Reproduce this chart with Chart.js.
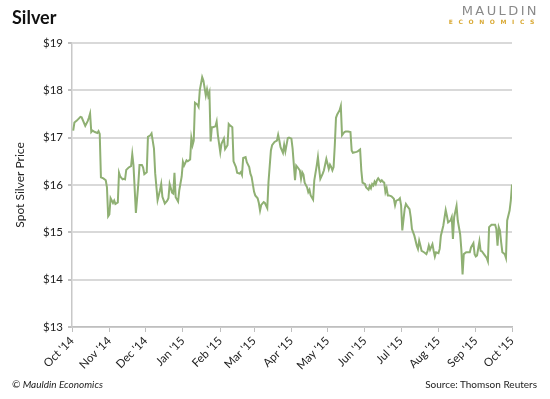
<!DOCTYPE html>
<html>
<head>
<meta charset="utf-8">
<script src="https://cdn.jsdelivr.net/npm/chart.js@4"></script>
<style>
  body { margin: 0; background: #fff; }
  #wrap { position: relative; width: 550px; height: 399px; overflow: hidden; font-family: Lato, "Open Sans", sans-serif; }
  #chart { position: absolute; left: 0; top: 0; }
  .title { position: absolute; left: 12px; top: 6px; font-size: 18px; font-weight: bold; color: #111; }
  .logo1 { position: absolute; right: 11px; top: 3px; font-family: "DejaVu Sans", sans-serif; font-size: 13px; letter-spacing: 2.4px; color: #8a8a8a; }
  .logo2 { position: absolute; right: 10px; top: 18px; font-family: "DejaVu Sans", sans-serif; font-size: 6px; font-weight: bold; letter-spacing: 5.6px; color: #d9a934; }
  .foot { position: absolute; top: 378px; font-size: 10px; color: #222; }
</style>
</head>
<body>
<div id="wrap">
  <canvas id="chart" width="550" height="399"></canvas>
  <div class="title">Silver</div>
  <div class="logo1">MAULDIN</div>
  <div class="logo2">ECONOMICS</div>
  <div class="foot" style="left:12px;font-style:italic;">© Mauldin Economics</div>
  <div class="foot" style="right:13px;">Source: Thomson Reuters</div>
</div>
<script>
// days counted from Oct 1 2014
const monthDays = [0, 31, 61, 92, 123, 151, 182, 212, 243, 273, 304, 335, 365];
const monthLabels = ["Oct '14", "Nov '14", "Dec '14", "Jan '15", "Feb '15", "Mar '15",
  "Apr '15", "May '15", "Jun '15", "Jul '15", "Aug '15", "Sep '15", "Oct '15"];

const priceDays = [
  1, 2, 4, 7, 8, 11, 13, 14, 15, 16, 17, 19, 21, 22, 23, 24, 26, 28, 29, 30,
  31, 32, 34, 35, 36, 38, 39, 40, 42, 43, 44, 45, 47, 49, 50, 51, 53, 55, 56, 58,
  59, 60, 62, 63, 65, 66, 68, 69, 71, 73, 74, 75, 77, 79, 80, 81, 83, 84, 85, 86,
  88, 89, 91, 92, 93, 95, 96, 98, 99, 100, 101, 102, 104, 105, 106, 108, 109, 111, 112, 113,
  114, 115, 116, 117, 119, 120, 121, 123, 124, 126, 127, 129, 130, 131, 133, 134, 136, 137, 139, 140,
  141, 142, 144, 145, 147, 148, 149, 151, 152, 154, 155, 156, 157, 159, 160, 162, 163, 165, 166, 168,
  170, 171, 172, 173, 175, 176, 177, 179, 180, 182, 183, 185, 186, 187, 189, 190, 191, 192, 193, 195,
  196, 197, 198, 200, 201, 203, 204, 205, 206, 208, 209, 211, 212, 213, 214, 215, 216, 217, 218, 219,
  220, 222, 223, 224, 226, 227, 229, 231, 232, 233, 236, 237, 239, 240, 241, 243, 244, 246, 247, 248,
  249, 250, 251, 252, 253, 254, 256, 257, 258, 259, 260, 261, 262, 263, 265, 267, 268, 269, 271, 272,
  273, 274, 276, 277, 278, 280, 281, 282, 284, 286, 287, 288, 289, 290, 292, 294, 295, 296, 297, 299,
  300, 301, 302, 304, 305, 306, 308, 310, 311, 312, 314, 315, 316, 317, 319, 320, 322, 323, 324, 325,
  327, 329, 330, 331, 333, 334, 335, 336, 338, 339, 340, 342, 344, 345, 346, 348, 351, 352, 353, 354,
  355, 356, 357, 359, 360, 361, 363, 364, 365
];

const spotPrice = [
  17.15, 17.32, 17.36, 17.44, 17.43, 17.25, 17.35, 17.42, 17.51, 17.12, 17.15, 17.12, 17.10, 17.14, 17.08, 16.16, 16.14, 16.10, 15.95, 15.34,
  15.38, 15.72, 15.62, 15.67, 15.60, 15.63, 16.26, 16.18, 16.12, 16.13, 16.12, 16.32, 16.37, 16.40, 16.65, 16.42, 15.41, 16.02, 16.42, 16.42,
  16.37, 16.23, 16.27, 17.02, 17.05, 17.09, 16.77, 16.25, 15.68, 15.89, 16.02, 15.75, 15.61, 15.67, 15.72, 16.02, 15.84, 15.82, 16.26, 15.74,
  15.65, 15.89, 16.18, 16.49, 16.41, 16.52, 16.50, 16.54, 16.99, 16.84, 16.94, 17.74, 17.70, 17.65, 18.00, 18.28, 18.21, 17.89, 18.02, 17.88,
  17.96, 16.92, 17.22, 17.22, 17.24, 17.34, 17.06, 16.69, 16.87, 16.98, 16.76, 16.84, 17.29, 17.26, 17.22, 16.50, 16.38, 16.26, 16.24, 16.27,
  16.21, 16.57, 16.59, 16.48, 16.38, 16.24, 16.17, 15.86, 15.78, 15.72, 15.62, 15.46, 15.58, 15.64, 15.62, 15.51, 16.06, 16.73, 16.84, 16.91,
  16.94, 17.06, 16.94, 16.80, 16.68, 16.85, 16.71, 16.99, 17.00, 16.98, 16.77, 16.10, 16.41, 16.38, 16.31, 16.13, 16.27, 16.22, 16.05, 15.95,
  15.85, 15.90, 15.78, 15.69, 16.10, 16.41, 16.59, 16.34, 16.13, 16.24, 16.31, 16.55, 16.45, 16.34, 16.43, 16.38, 16.31, 16.38, 16.84, 17.42,
  17.49, 17.58, 17.67, 17.05, 17.12, 17.13, 17.13, 17.12, 16.73, 16.68, 16.70, 16.71, 16.75, 16.31, 16.05, 16.02, 15.95, 15.90, 15.98, 15.93,
  16.02, 15.99, 16.07, 16.02, 16.10, 16.14, 16.07, 16.10, 16.07, 16.05, 15.85, 15.93, 15.78, 15.78, 15.76, 15.71, 15.57, 15.67, 15.69, 15.72,
  15.57, 15.04, 15.50, 15.60, 15.56, 15.49, 15.32, 15.07, 14.93, 14.72, 14.65, 14.82, 14.72, 14.61, 14.58, 14.54, 14.61, 14.72, 14.63, 14.75,
  14.61, 14.49, 14.58, 14.56, 14.65, 14.93, 15.14, 15.47, 15.35, 15.21, 15.25, 15.32, 14.86, 15.32, 15.56, 15.25, 14.96, 14.63, 14.11, 14.54,
  14.58, 14.58, 14.58, 14.68, 14.77, 14.54, 14.49, 14.51, 14.81, 14.61, 14.60, 14.53, 14.46, 14.39, 15.11, 15.16, 15.16, 15.07, 14.72, 15.11,
  15.04, 14.79, 14.58, 14.54, 14.46, 15.25, 15.46, 15.67, 16.01
];

const points = priceDays.map((d, i) => ({ x: d, y: spotPrice[i] }));

const tickFont = { family: "Lato, 'Open Sans', sans-serif", size: 11.5 };

new Chart(document.getElementById("chart"), {
  type: "line",
  data: {
    datasets: [
      {
        label: "Spot Silver Price",
        data: points,
        borderColor: "#8fb073",
        borderWidth: 2,
        pointRadius: 0,
        tension: 0,
        fill: false,
      },
    ],
  },
  options: {
    responsive: false,
    animation: false,
    devicePixelRatio: 1,
    layout: { padding: { top: 43, right: 38, left: 0, bottom: 0 } },
    plugins: {
      legend: { display: false },
      tooltip: { enabled: false },
    },
    scales: {
      x: {
        type: "linear",
        min: 0,
        max: 365,
        afterBuildTicks: (scale) => {
          scale.ticks = monthDays.map((v) => ({ value: v }));
        },
        afterFit: (scale) => {
          scale.height = 72;
        },
        ticks: {
          autoSkip: false,
          minRotation: 45,
          maxRotation: 45,
          padding: 2,
          color: "#222",
          font: tickFont,
          callback: (v, i) => monthLabels[i],
        },
        grid: {
          drawOnChartArea: false,
          drawTicks: true,
          tickLength: 5,
          tickColor: "#bfbfbf",
        },
        border: { display: true, color: "#bfbfbf", width: 1.5 },
      },
      y: {
        min: 13,
        max: 19,
        afterFit: (scale) => {
          scale.width = 72;
        },
        ticks: {
          stepSize: 1,
          padding: 5,
          color: "#222",
          font: tickFont,
          callback: (v) => "$" + v,
        },
        grid: {
          color: "#d9d9d9",
          lineWidth: 2,
          tickLength: 4,
          tickColor: "#bfbfbf",
        },
        border: { display: true, color: "#c8c8c8", width: 1.5 },
        title: {
          display: true,
          text: "Spot Silver Price",
          color: "#222",
          padding: { top: 13, bottom: 0 },
          font: { family: "Lato, 'Open Sans', sans-serif", size: 12 },
        },
      },
    },
  },
});
</script>
</body>
</html>
